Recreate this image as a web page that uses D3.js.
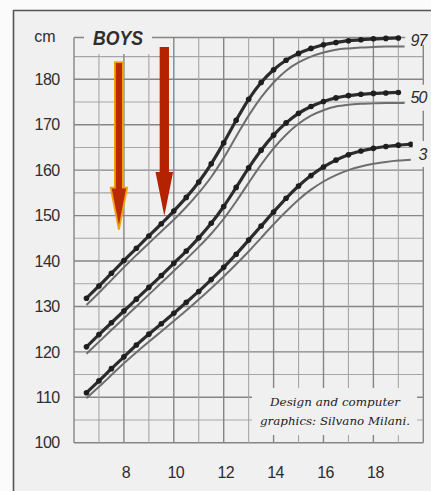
<!DOCTYPE html>
<html><head><meta charset="utf-8">
<script src="https://cdn.jsdelivr.net/npm/d3@7"></script>
<style>html,body{margin:0;padding:0;background:#fbfbfb;overflow:hidden}</style>
</head><body><svg id="c" width="431" height="491"></svg>
<script>
// ---- data ----
const ages = [6.5,7,7.5,8,8.5,9,9.5,10,10.5,11,11.5,12,12.5,13,13.5,14,14.5,15,15.5,16,16.5,17,17.5,18,18.5,19];
const ages3 = ages.concat([19.5]);
const grayAges = ages.concat([19.25]);
const grayAges3 = ages.concat([19.5]);

const p97 = [131.8,134.5,137.3,140.1,142.8,145.5,148.2,151.0,154.0,157.4,161.4,166.0,171.0,175.6,179.3,182.1,184.2,185.7,186.8,187.6,188.1,188.5,188.7,188.9,189.0,189.1];
const p50 = [121.1,123.8,126.4,129.0,131.6,134.2,136.8,139.5,142.2,145.1,148.3,152.0,156.2,160.5,164.4,167.7,170.4,172.5,174.0,175.1,175.9,176.4,176.7,176.9,177.0,177.1];
const p3  = [111.0,113.6,116.3,118.9,121.5,123.9,126.2,128.5,130.9,133.3,135.9,138.6,141.5,144.6,147.7,150.8,153.8,156.5,158.8,160.7,162.2,163.4,164.2,164.8,165.2,165.5,165.7];

const g97 = [130.3,133.0,135.8,138.6,141.3,143.9,146.5,149.1,151.9,155.0,158.5,162.7,167.4,172.0,176.0,179.3,181.9,183.7,185.0,185.9,186.5,186.8,187.0,187.1,187.2,187.2,187.2];
const g50 = [119.6,122.2,124.8,127.4,130.0,132.6,135.2,137.8,140.4,143.1,146.0,149.3,153.1,157.2,161.2,164.8,167.8,170.2,172.0,173.2,174.0,174.4,174.6,174.7,174.8,174.8,174.8];
const g3  = [109.8,112.3,114.9,117.5,119.9,122.2,124.5,126.8,129.1,131.5,134.0,136.6,139.3,142.1,145.1,148.1,150.9,153.5,155.7,157.5,158.9,160.0,160.8,161.4,161.8,162.1,162.3];

const percentileLabels = ["97","50","3"];
const yTickLabels = [100,110,120,130,140,150,160,170,180];
const xTickLabels = [8,10,12,14,16,18];

const arrowAges = [7.8, 9.62];
const arrowTops = [183.8, 187.1];
const arrowTips = [146.9, 149.9];

const title = "BOYS";
const unitLabel = "cm";
const credit = ["Design and computer", "graphics: Silvano Milani."];

// ---- scales ----
const svg = d3.select('#c');
const x = d3.scaleLinear().domain([6,20]).range([74,423.3]);
const y = d3.scaleLinear().domain([100,180]).range([442.7,79.3]);
const yTop = 189.2;
const paper = '#f0f0f0';

// paper + page frame
svg.append('rect').attr('x',13).attr('y',10).attr('width',418).attr('height',481).attr('fill',paper);
svg.append('line').attr('x1',13).attr('x2',431).attr('y1',10.5).attr('y2',10.5).attr('stroke','#555').attr('stroke-width',1.6);
svg.append('line').attr('x1',13.5).attr('x2',13.5).attr('y1',10).attr('y2',491).attr('stroke','#555').attr('stroke-width',1.6);

// grid
const grid = svg.append('g');
d3.range(100,186,5).forEach(v=>{
  const major = v%10===0;
  grid.append('line').attr('x1',x(6)).attr('x2',x(20)).attr('y1',y(v)).attr('y2',y(v))
    .attr('stroke', major?'#858585':'#a6a6a6').attr('stroke-width', major?1.4:1.1);
});
grid.append('line').attr('x1',x(6)).attr('x2',x(20)).attr('y1',y(yTop)).attr('y2',y(yTop))
  .attr('stroke','#858585').attr('stroke-width',1.4);
d3.range(6,21,1).forEach(a=>{
  const major = a%2===0;
  grid.append('line').attr('x1',x(a)).attr('x2',x(a)).attr('y1',y(100)).attr('y2',y(yTop))
    .attr('stroke', major?'#858585':'#a6a6a6').attr('stroke-width', major?1.4:1.1);
});

// masks (title box, credit box)
svg.append('rect').attr('x',84).attr('y',26).attr('width',68).attr('height',28).attr('fill',paper);
svg.append('rect').attr('x',252).attr('y',388).attr('width',165).attr('height',47).attr('fill',paper);

// ---- curves ----
const line = d3.line().x(d=>x(d[0])).y(d=>y(d[1])).curve(d3.curveMonotoneX);
const grays = [[grayAges,g97],[grayAges,g50],[grayAges3,g3]];
const blacks = [[ages,p97],[ages,p50],[ages3,p3]];
grays.forEach(([a,v])=>{
  svg.append('path').datum(a.map((t,i)=>[t,v[i]])).attr('d',line)
    .attr('fill','none').attr('stroke','#6e6e6e').attr('stroke-width',2);
});
blacks.forEach(([a,v])=>{
  const pts = a.map((t,i)=>[t,v[i]]);
  svg.append('path').datum(pts).attr('d',line)
    .attr('fill','none').attr('stroke','#2c2c2c').attr('stroke-width',3.2);
  svg.append('g').selectAll('circle').data(pts).join('circle')
    .attr('cx',d=>x(d[0])).attr('cy',d=>y(d[1])).attr('r',2.8).attr('fill','#1e1e1e');
});

// percentile labels with gaps in right border
percentileLabels.forEach((lab,i)=>{
  const [ba,bv] = blacks[i]; const [ga,gv] = grays[i];
  const by = y(bv[bv.length-1]), gy = y(gv[gv.length-1]);
  const ly = i===0 ? by+2 : (by+gy)/2 + (i===2?2:0);
  const w = lab.length*7.5;
  const xEnd = x(20) + 3;
  svg.append('rect').attr('x',xEnd-w-6).attr('y',ly-13).attr('width',w+16).attr('height',i===0?18:26).attr('fill',paper);
  svg.append('text').attr('x',xEnd).attr('y',ly).attr('dy','0.35em').attr('text-anchor','end')
    .attr('font-family','Liberation Sans, Arial, sans-serif')
    .attr('font-style','italic').attr('font-size',16).attr('letter-spacing','-1')
    .attr('fill','#2a2a2a').text(lab);
});

// ---- arrows ----
const arrowStyles = [
  {fill:'#b82a00', stroke:'#f5a010', sw:1.8, shaft:8, head:16.5, headLen:42},
  {fill:'#b52200', stroke:'none', sw:0, shaft:9.3, head:17.6, headLen:44}
];
arrowAges.forEach((a,i)=>{
  const s = arrowStyles[i];
  const cx = x(a), yt = y(arrowTops[i]), yb = y(arrowTips[i]), yh = yb - s.headLen;
  const p = [[cx-s.shaft/2,yt],[cx+s.shaft/2,yt],[cx+s.shaft/2,yh],[cx+s.head/2,yh],[cx,yb],
             [cx-s.head/2,yh],[cx-s.shaft/2,yh]];
  svg.append('path').attr('d','M'+p.map(q=>q.join(',')).join('L')+'Z')
    .attr('fill',s.fill).attr('stroke',s.stroke).attr('stroke-width',s.sw).attr('stroke-linejoin','miter');
});

// ---- axis labels ----
const font = 'Liberation Sans, Arial, sans-serif';
yTickLabels.forEach(v=>{
  svg.append('text').attr('x',59.5).attr('y',y(v)).attr('dy','0.36em').attr('text-anchor','end')
    .attr('font-family',font).attr('font-size',16).attr('letter-spacing','-0.6')
    .attr('fill','#2e2e2e').text(v);
});
xTickLabels.forEach(a=>{
  svg.append('text').attr('x',x(a)+2).attr('y',472).attr('dy','0.36em').attr('text-anchor','middle')
    .attr('font-family',font).attr('font-size',16).attr('letter-spacing','-0.6')
    .attr('fill','#2e2e2e').text(a);
});
svg.append('text').attr('x',45).attr('y',y(yTop)).attr('dy','0.3em').attr('text-anchor','middle')
  .attr('font-family',font).attr('font-size',16).attr('fill','#2e2e2e').text(unitLabel);
svg.append('text').attr('x',93).attr('y',45).attr('font-family',font).attr('font-weight','bold')
  .attr('font-style','italic').attr('font-size',21).attr('fill','#2e2e2e')
  .attr('textLength',50).attr('lengthAdjust','spacingAndGlyphs').text(title);

// credit
credit.forEach((t,i)=>{
  svg.append('text').attr('x',335).attr('y',406+i*19).attr('text-anchor','middle')
    .attr('font-family','DejaVu Serif, serif').attr('font-style','italic').attr('font-size',11.5)
    .attr('fill','#1c1c1c').attr('textLength', i===0?130:150).attr('lengthAdjust','spacingAndGlyphs').text(t);
});
</script></body></html>
